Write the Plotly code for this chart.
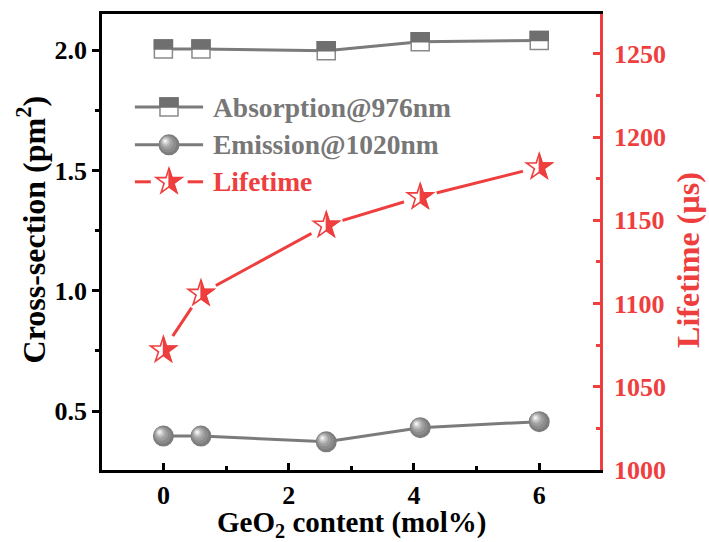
import plotly.graph_objects as go

# GeO2 content (mol%) of the samples
geo2 = [0.0, 0.6, 2.6, 4.1, 6.0]
# Cross-sections (pm^2)
absorption_976 = [2.005, 2.005, 1.997, 2.035, 2.040]
emission_1020 = [0.396, 0.396, 0.372, 0.431, 0.456]
# Fluorescence lifetime (us)
lifetime = [1072, 1106, 1147, 1164, 1182]

series_names = ["Absorption@976nm", "Emission@1020nm", "Lifetime"]

GRAY = "#7b7b7b"
GRAY_DARK = "#6f6f6f"
RED = "#ee3e3e"
FONT = "Liberation Serif"


def _base(xref, yref, xa, ya):
    return dict(xref=xref, yref=yref, xsizemode="pixel", ysizemode="pixel",
                xanchor=xa, yanchor=ya, layer="above")


def square_glyph(xref, yref, xa, ya, h=9):
    """Half-filled square: white body, gray upper half."""
    b = _base(xref, yref, xa, ya)
    return [
        dict(type="rect", x0=-h, x1=h, y0=-h, y1=h, fillcolor="white",
             line=dict(color="#8a8a8a", width=1.5), **b),
        dict(type="rect", x0=-h, x1=h, y0=0, y1=h, fillcolor=GRAY_DARK,
             line=dict(color=GRAY_DARK, width=1.5), **b),
    ]


def sphere_glyph(xref, yref, xa, ya, r=10.5):
    """Shaded ball built from offset discs, lit from the upper left."""
    b = _base(xref, yref, xa, ya)
    layers = [
        (1.00, 0.00, "#7c7c7c"),
        (0.82, 0.10, "#8c8c8c"),
        (0.64, 0.20, "#9e9e9e"),
        (0.46, 0.28, "#b6b6b6"),
        (0.30, 0.33, "#d2d2d2"),
        (0.16, 0.36, "#f2f2f2"),
    ]
    out = []
    for k, off, col in layers:
        cx, cy = -off * r, off * r
        rr = k * r
        out.append(dict(type="circle", x0=cx - rr, x1=cx + rr, y0=cy - rr, y1=cy + rr,
                        fillcolor=col, line=dict(width=0), **b))
    return out


def _star_points(rs):
    x1, x2, x3, x4 = rs * 0.225, rs * 0.951, rs * 0.363, rs * 0.588
    y1, y3, y4, y5 = -rs * 0.309, rs * 0.118, rs * 0.809, rs * 0.382
    pts = [(x1, y1), (x2, y1), (x3, y3), (x4, y4), (0, y5),
           (-x4, y4), (-x3, y3), (-x2, y1), (-x1, y1), (0, -rs)]
    # flip to y-up pixel space
    return [(px, -py) for px, py in pts]


def _path(pts):
    return "M " + " L ".join(f"{px:.2f},{py:.2f}" for px, py in pts) + " Z"


def star_glyph(xref, yref, xa, ya, rs=13.5):
    """Five-point star, open on the left half and filled on the right half."""
    b = _base(xref, yref, xa, ya)
    pts = _star_points(rs)
    right = [pts[9], pts[0], pts[1], pts[2], pts[3], pts[4]]
    return [
        dict(type="path", path=_path(pts), fillcolor="white",
             line=dict(color=RED, width=1.6), **b),
        dict(type="path", path=_path(right), fillcolor=RED,
             line=dict(color=RED, width=1.2), **b),
    ]


fig = go.Figure()

fig.add_trace(go.Scatter(x=geo2, y=absorption_976, mode="lines", name=series_names[0],
                         line=dict(color=GRAY, width=3), showlegend=False))
fig.add_trace(go.Scatter(x=geo2, y=emission_1020, mode="lines", name=series_names[1],
                         line=dict(color=GRAY, width=3), showlegend=False))
# white discs under the stars leave a gap between the line and each symbol
fig.add_trace(go.Scatter(x=geo2, y=lifetime, mode="lines+markers", name=series_names[2],
                         yaxis="y2", line=dict(color=RED, width=3),
                         marker=dict(symbol="circle", size=34, color="white",
                                     line=dict(width=0)),
                         showlegend=False))

shapes = []
for xv, yv in zip(geo2, absorption_976):
    shapes += square_glyph("x", "y", xv, yv)
for xv, yv in zip(geo2, emission_1020):
    shapes += sphere_glyph("x", "y", xv, yv)
for xv, yv in zip(geo2, lifetime):
    shapes += star_glyph("x", "y2", xv, yv)

# hand-drawn legend (paper coordinates of the plot area)
leg_x0, leg_x1, leg_xm, leg_tx = 0.066, 0.203, 0.1345, 0.219
leg_rows = [0.796, 0.713, 0.632]
for yr in leg_rows[:2]:
    shapes.append(dict(type="line", xref="paper", yref="paper", x0=leg_x0, x1=leg_x1,
                       y0=yr, y1=yr, line=dict(color=GRAY, width=3), layer="above"))
shapes.append(dict(type="line", xref="paper", yref="paper", x0=leg_x0, x1=0.098,
                   y0=leg_rows[2], y1=leg_rows[2], line=dict(color=RED, width=3), layer="above"))
shapes.append(dict(type="line", xref="paper", yref="paper", x0=0.172, x1=leg_x1,
                   y0=leg_rows[2], y1=leg_rows[2], line=dict(color=RED, width=3), layer="above"))
shapes += square_glyph("paper", "paper", leg_xm, leg_rows[0])
shapes += sphere_glyph("paper", "paper", leg_xm, leg_rows[1])
shapes += star_glyph("paper", "paper", leg_xm, leg_rows[2])

annotations = []
for name, yr, col in zip(series_names, leg_rows, ["#777777", "#777777", RED]):
    annotations.append(dict(text=name, x=leg_tx, y=yr, xref="paper", yref="paper",
                            xanchor="left", yanchor="middle", showarrow=False,
                            font=dict(family=FONT, size=27.5, color=col, weight="bold")))

# axis titles
annotations.append(dict(text="Cross-section (pm<sup>2</sup>)", x=-0.142, y=0.526,
                        xref="paper", yref="paper", textangle=-90, showarrow=False,
                        xanchor="center", yanchor="middle",
                        font=dict(family=FONT, size=32, color="black", weight="bold")))
annotations.append(dict(text="Lifetime (µs)", x=1.178, y=0.46,
                        xref="paper", yref="paper", textangle=-90, showarrow=False,
                        xanchor="center", yanchor="middle",
                        font=dict(family=FONT, size=32, color=RED, weight="bold")))
annotations.append(dict(text="GeO<sub>2</sub> content (mol%)", x=0.502, y=-0.118,
                        xref="paper", yref="paper", showarrow=False,
                        xanchor="center", yanchor="middle",
                        font=dict(family=FONT, size=29, color="black", weight="bold")))

tick_font = dict(family=FONT, size=26, color="black", weight="bold")

fig.update_layout(
    width=709, height=542, autosize=False,
    margin=dict(l=102, r=109, t=14, b=72),
    paper_bgcolor="white", plot_bgcolor="white",
    showlegend=False,
    shapes=shapes, annotations=annotations,
    xaxis=dict(range=[-0.98, 6.97], tick0=0, dtick=2, ticks="inside", ticklen=7,
               tickwidth=2.5, tickcolor="black", showline=True, linewidth=2.5,
               linecolor="black", mirror=True, showgrid=False, zeroline=False,
               tickfont=tick_font, ticklabelstandoff=0,
               minor=dict(ticks="inside", dtick=1, tick0=0, ticklen=4,
                          tickwidth=2.5, tickcolor="black", showgrid=False)),
    yaxis=dict(range=[0.255, 2.15], tickvals=[0.5, 1.0, 1.5, 2.0], tickformat=".1f",
               ticks="outside", ticklen=7, tickwidth=2.5, tickcolor="black",
               showline=True, linewidth=2.5, linecolor="black", showgrid=False,
               zeroline=False, tickfont=tick_font,
               minor=dict(ticks="outside", tickvals=[0.75, 1.25, 1.75], ticklen=4,
                          tickwidth=2.5, tickcolor="black", showgrid=False)),
    yaxis2=dict(range=[1000, 1274], overlaying="y", side="right", tick0=1000, dtick=50,
                ticks="inside", ticklen=7, tickwidth=2.5, tickcolor=RED,
                showline=True, linewidth=2.5, linecolor=RED, showgrid=False,
                zeroline=False, tickfont=dict(family=FONT, size=26, color=RED, weight="bold"),
                ticklabelstandoff=6,
                minor=dict(ticks="inside", dtick=25, tick0=1000, ticklen=4,
                           tickwidth=2.5, tickcolor=RED, showgrid=False)),
)

fig.write_html("out.html")
